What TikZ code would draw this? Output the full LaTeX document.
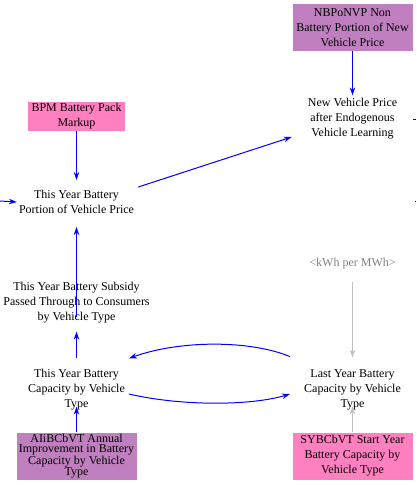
\documentclass[tikz,border=0pt]{standalone}
\usepackage{fontspec}
\setmainfont{Liberation Serif}
\usetikzlibrary{arrows.meta}
\definecolor{boxpurple}{RGB}{192,128,192}
\definecolor{boxpink}{RGB}{255,128,192}
\definecolor{linkgray}{RGB}{192,192,192}
\definecolor{textgray}{RGB}{128,128,128}
\begin{document}
\begin{tikzpicture}[x=1pt,y=-1pt,
  lbl/.style={align=center,font=\fontsize{12}{15}\selectfont,inner sep=0pt},
  boxp/.style={lbl,fill=boxpurple,minimum width=120pt,minimum height=47pt},
  boxk/.style={lbl,fill=boxpink,minimum width=120pt,minimum height=47pt},
  link/.style={draw=blue,line width=1pt,-{Stealth[length=8pt,width=5.5pt]}},
  glink/.style={link,draw=linkgray},
  plain/.style={draw=blue,line width=1pt}]
\useasboundingbox (0,0) rectangle (416,485);
\node[boxp] (nb) at (352.5,27.5) {NBPoNVP Non\\Battery Portion of New\\Vehicle Price};
\node[lbl] (nvp) at (352.5,119) {New Vehicle Price\\after Endogenous\\Vehicle Learning};
\node[boxk,minimum width=97pt,minimum height=29pt] (bpm) at (76.5,116.5) {BPM Battery Pack\\Markup};
\node[lbl] (port) at (76.5,202) {This Year Battery\\Portion of Vehicle Price};
\node[lbl,text=textgray] (kwh) at (352.5,264) {<kWh per MWh>};
\node[lbl] (sub) at (76.5,303) {This Year Battery Subsidy\\Passed Through to Consumers\\by Vehicle Type};
\node[lbl] (tcap) at (76.5,390) {This Year Battery\\Capacity by Vehicle\\Type};
\node[lbl] (lcap) at (352.5,390) {Last Year Battery\\Capacity by Vehicle\\Type};
\node[boxp,font=\fontsize{12}{10.5}\selectfont] (ai) at (76.5,456) {AIiBCbVT Annual\\Improvement in Battery\\Capacity by Vehicle\\Type};
\node[boxk] (syb) at (352.5,456) {SYBCbVT Start Year\\Battery Capacity by\\Vehicle Type};
\coordinate (le) at (0,201);
\coordinate (re1) at (413,119);
\coordinate (re2) at (416,119);
\coordinate (re3) at (415,201);
\coordinate (re4) at (416,201);
% connectors
\draw[link] (nb.south) -- ([yshift=3pt]nvp.north);
\draw[link] (bpm.south) -- ([yshift=10pt]port.north);
\draw[link] (le) -- ([xshift=-2pt]port.west);
\draw[link] ([xshift=4pt,yshift=3pt]port.north east) -- ([xshift=-16pt,yshift=-18pt]nvp.west);
\draw[link] ([yshift=7pt]sub.south) -- ([yshift=-13pt]port.south);
\draw[link] ([yshift=11pt]tcap.north) -- ([yshift=-8pt]sub.south);
\draw[link] ([xshift=-14pt,yshift=13pt]lcap.north west) .. controls (250,340) and (180,340) .. ([xshift=4pt,yshift=11pt]tcap.north east);
\draw[link] ([xshift=4pt,yshift=-4pt]tcap.east) .. controls (180,406) and (250,406) .. ([xshift=-14pt,yshift=-4pt]lcap.west);
\draw[glink] ([yshift=-12pt]kwh.south) -- ([yshift=12pt]lcap.north);
\draw[glink] (syb.north) -- ([yshift=4pt]lcap.south);
\draw[link] (ai.north) -- ([yshift=4pt]tcap.south);
\draw[plain] (re1) -- (re2);
\draw[plain] (re3) -- (re4);
\end{tikzpicture}
\end{document}
